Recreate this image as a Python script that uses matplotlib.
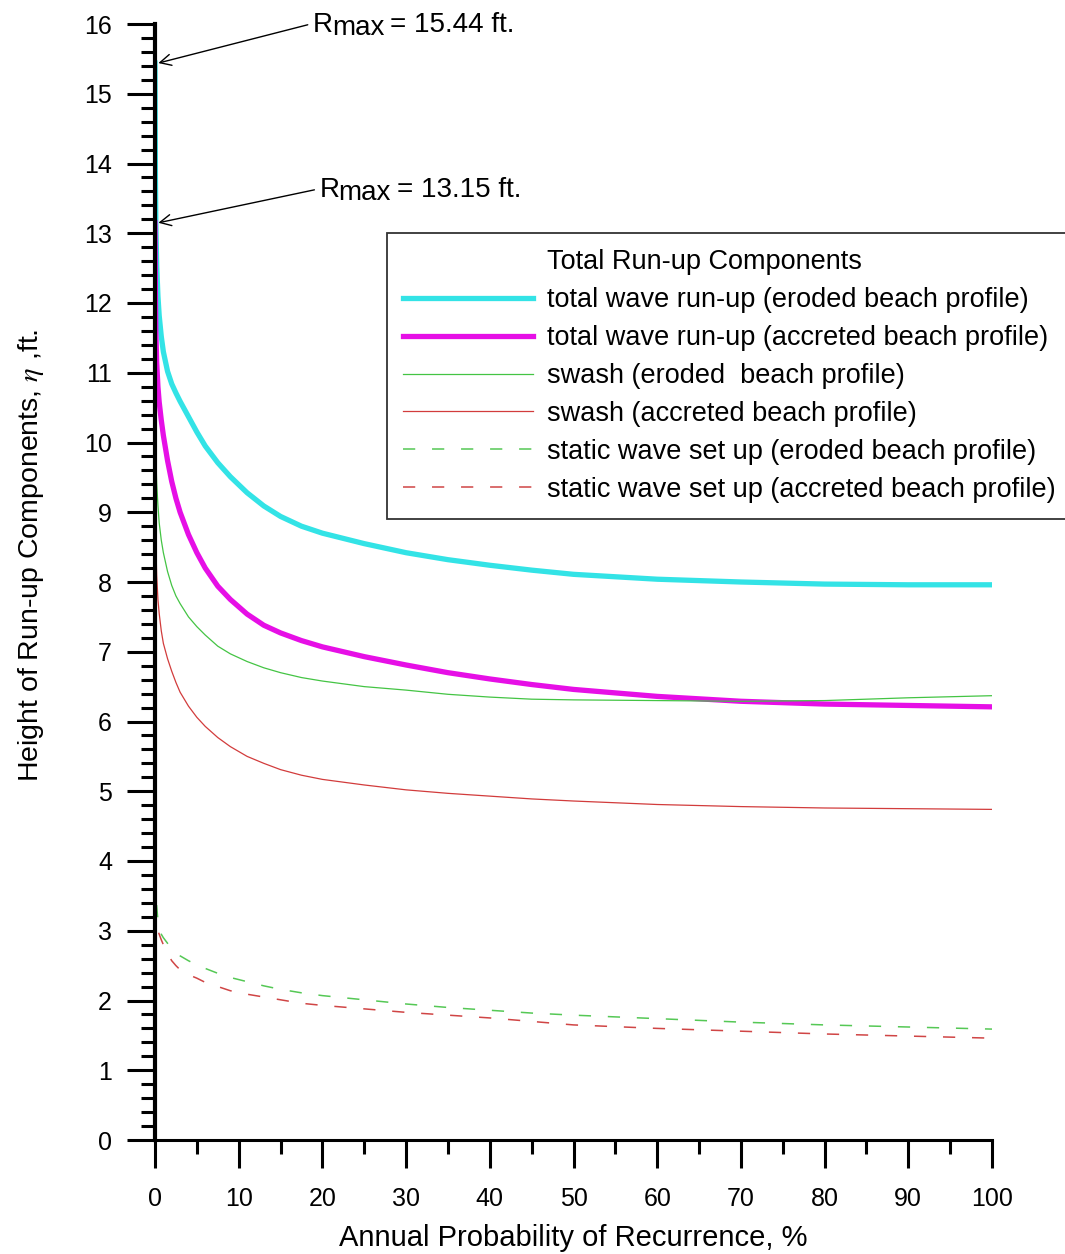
import matplotlib
matplotlib.use('Agg')
import matplotlib.pyplot as plt
from matplotlib.ticker import MultipleLocator

plt.rcParams['font.family'] = ['Liberation Sans', 'DejaVu Sans']
plt.rcParams['mathtext.fontset'] = 'stix'

# annual probability of recurrence, %
prob = [0, 0.05, 0.1, 0.2, 0.35, 0.5, 0.75, 1, 1.5, 2, 2.5, 3, 4, 5, 6, 7.5,
        9, 11, 13, 15, 17.5, 20, 25, 30, 35, 40, 45, 50, 60, 70, 80, 90, 100]

runup_eroded = [15.44, 13.8, 13.15, 12.55, 12.1, 11.82, 11.52, 11.3, 11.02,
                10.84, 10.71, 10.59, 10.37, 10.15, 9.95, 9.71, 9.51, 9.28,
                9.09, 8.94, 8.8, 8.7, 8.55, 8.42, 8.32, 8.24, 8.17, 8.11,
                8.04, 8.0, 7.97, 7.96, 7.96]
runup_accreted = [13.15, 12.1, 11.6, 11.15, 10.8, 10.58, 10.32, 10.1, 9.74,
                  9.44, 9.2, 9.0, 8.68, 8.42, 8.2, 7.94, 7.75, 7.54, 7.38,
                  7.27, 7.16, 7.07, 6.93, 6.81, 6.7, 6.61, 6.53, 6.46, 6.36,
                  6.29, 6.25, 6.23, 6.21]
swash_eroded = [10.8, 10.1, 9.8, 9.42, 9.1, 8.85, 8.6, 8.42, 8.15, 7.95, 7.8,
                7.69, 7.5, 7.36, 7.24, 7.08, 6.97, 6.86, 6.77, 6.7, 6.63, 6.58,
                6.5, 6.45, 6.39, 6.35, 6.32, 6.31, 6.3, 6.29, 6.3, 6.34, 6.37]
swash_accreted = [9.5, 8.9, 8.55, 8.1, 7.75, 7.55, 7.3, 7.12, 6.9, 6.72, 6.56,
                  6.42, 6.22, 6.06, 5.93, 5.77, 5.64, 5.5, 5.4, 5.31, 5.23,
                  5.17, 5.09, 5.02, 4.97, 4.93, 4.89, 4.86, 4.81, 4.78, 4.76,
                  4.75, 4.74]
setup_eroded = [4.2, 3.85, 3.6, 3.35, 3.15, 3.05, 2.95, 2.9, 2.82, 2.75, 2.69,
                2.64, 2.57, 2.51, 2.46, 2.39, 2.33, 2.27, 2.21, 2.16, 2.11,
                2.07, 2.01, 1.95, 1.9, 1.86, 1.82, 1.79, 1.74, 1.69, 1.65,
                1.62, 1.59]
setup_accreted = [3.8, 3.45, 3.25, 3.1, 3.0, 2.95, 2.87, 2.8, 2.67, 2.57, 2.5,
                  2.44, 2.37, 2.32, 2.26, 2.2, 2.14, 2.09, 2.05, 2.01, 1.96,
                  1.93, 1.88, 1.83, 1.79, 1.75, 1.7, 1.65, 1.6, 1.56, 1.52,
                  1.49, 1.46]

rmax_eroded = 15.44
rmax_accreted = 13.15

fig = plt.figure(figsize=(10.65, 12.54), dpi=100)
ax = fig.add_axes([155/1065, 1 - 1140/1254, 837/1065, 1116/1254])

ax.plot([], [], color='none', label='Total Run-up Components')
ax.plot(prob, runup_eroded, color='#33e3e6', lw=3.8,
        label='total wave run-up (eroded beach profile)')
ax.plot(prob, runup_accreted, color='#e60fe6', lw=3.8,
        label='total wave run-up (accreted beach profile)')
ax.plot(prob, swash_eroded, color='#44c444', lw=0.9,
        label='swash (eroded  beach profile)')
ax.plot(prob, swash_accreted, color='#d23c3c', lw=0.9,
        label='swash (accreted beach profile)')
ax.plot(prob, setup_eroded, color='#55c855', lw=1.1, ls=(0, (8, 11)),
        label='static wave set up (eroded beach profile)')
ax.plot(prob, setup_accreted, color='#d04545', lw=1.1, ls=(0, (8, 11)),
        label='static wave set up (accreted beach profile)')

ax.set_xlim(0, 100)
ax.set_ylim(0, 16)
ax.spines['top'].set_visible(False)
ax.spines['right'].set_visible(False)
ax.spines['left'].set_linewidth(3)
ax.spines['bottom'].set_linewidth(2.2)

ax.xaxis.set_major_locator(MultipleLocator(10))
ax.xaxis.set_minor_locator(MultipleLocator(5))
ax.yaxis.set_major_locator(MultipleLocator(1))
ax.yaxis.set_minor_locator(MultipleLocator(0.2))
ax.tick_params(which='major', direction='out', length=20, width=2.2,
               labelsize=18, pad=14)
ax.tick_params(axis='y', which='major', pad=11)
ax.tick_params(which='minor', direction='out', length=10, width=2.2)

ax.set_xlabel('Annual Probability of Recurrence, %', fontsize=21, labelpad=9)
ax.set_ylabel(r'Height of Run-up Components, $\eta$ ,ft.', fontsize=20.5)
ax.yaxis.set_label_coords(-0.13, 0.524)

# R_max labels: "max" drawn full size and slightly lowered, as in the source
arrow = dict(arrowstyle='->', color='black', lw=1, shrinkA=2, shrinkB=0,
             relpos=(0, 0.55))
for r, tx, ty in [(rmax_eroded, 18.9, 15.89), (rmax_accreted, 19.7, 13.52)]:
    ax.annotate('R', xy=(0.4, r), xytext=(tx, ty), fontsize=20,
                va='baseline', arrowprops=arrow, annotation_clip=False)
    ax.annotate('max', xy=(tx, ty), xytext=(13.5, -2.5),
                textcoords='offset points', fontsize=20, va='baseline',
                annotation_clip=False)
    ax.annotate('= %.2f ft.' % r, xy=(tx, ty), xytext=(55.5, 0),
                textcoords='offset points', fontsize=20, va='baseline',
                annotation_clip=False)

leg = ax.legend(loc='upper left', bbox_to_anchor=(387/1065, 1 - 233/1254),
                bbox_transform=fig.transFigure, fontsize=19.5, frameon=True,
                fancybox=False, framealpha=1, edgecolor='#333333',
                handlelength=4.8, handletextpad=0.5, labelspacing=0.44,
                borderpad=0.6, borderaxespad=0)
leg.get_frame().set_linewidth(1.3)

fig.savefig('out.png', dpi=100)
